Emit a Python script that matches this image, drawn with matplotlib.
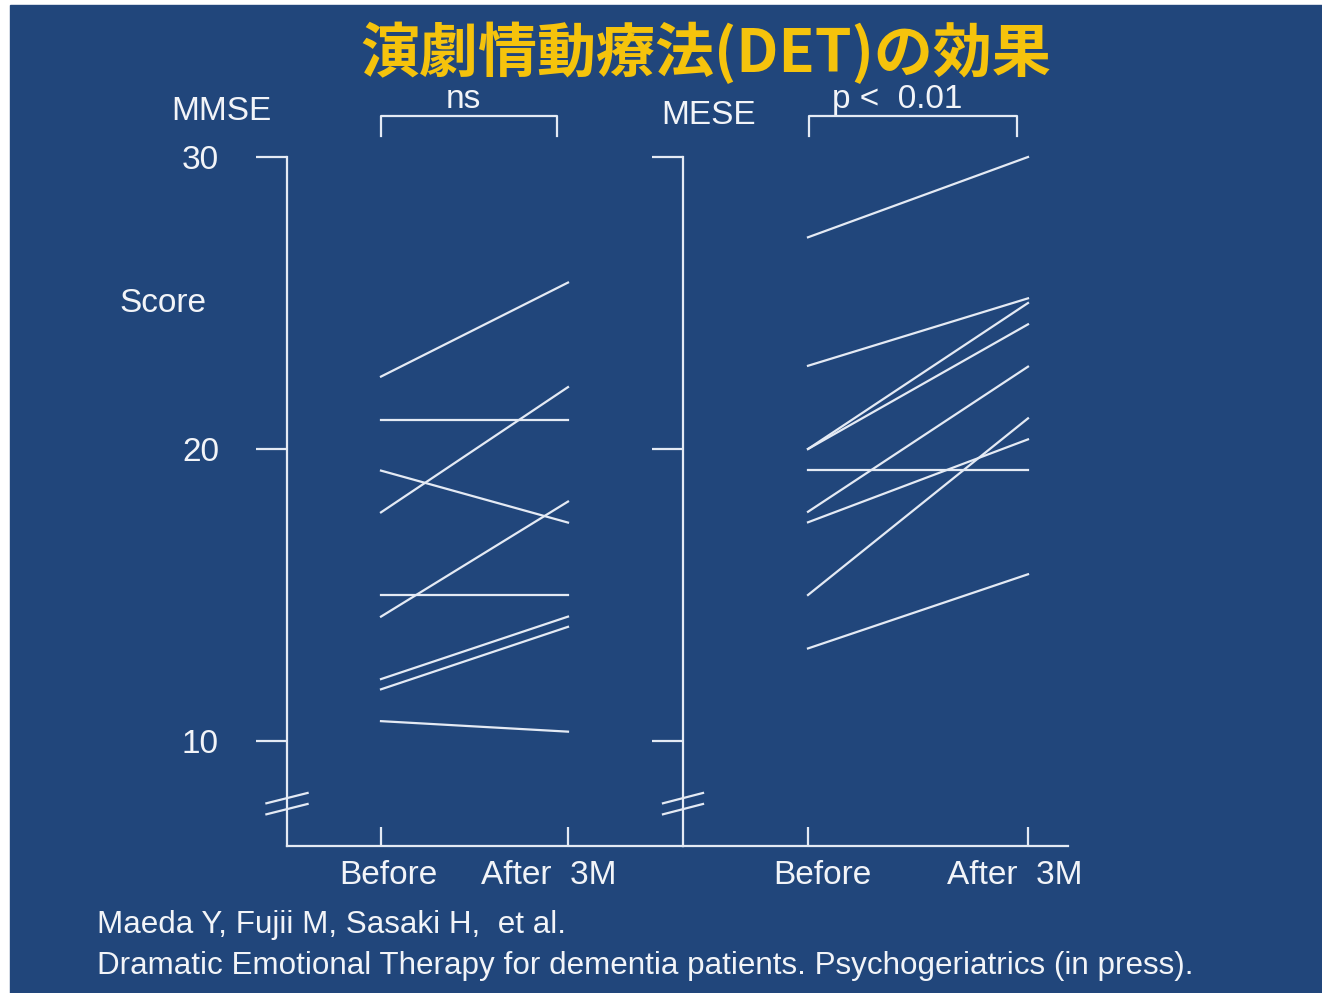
import matplotlib
matplotlib.use("Agg")
import matplotlib.pyplot as plt
from matplotlib.patches import Rectangle

# ---------------- data ----------------
title = "演劇情動療法(DET)の効果"
time_labels = ["Before", "After  3M"]
y_ticks = [10, 20, 30]

mmse_before = [22.48, 21.0, 17.83, 19.26, 14.26, 15.0, 12.12, 11.77, 10.68]
mmse_after = [25.70, 21.0, 22.12, 17.48, 18.20, 15.0, 14.26, 13.91, 10.32]

mese_before = [27.25, 22.85, 20.0, 20.0, 17.85, 17.49, 15.0, 13.17, 19.27]
mese_after = [30.0, 25.16, 25.0, 24.27, 22.82, 20.33, 21.05, 15.71, 19.27]

mmse_sig = "ns"
mese_sig = "p <  0.01"
citation1 = "Maeda Y, Fujii M, Sasaki H,  et al."
citation2 = "Dramatic Emotional Therapy for dementia patients. Psychogeriatrics (in press)."

# ---------------- style ----------------
W, H = 1322, 993
BG = "#21467b"
FG = "#f2f4f8"
LINE = "#e4eaf4"
GOLD = "#f5c30c"
FONT = ["Liberation Sans", "DejaVu Sans"]
FS = 24

plt.rcParams["font.family"] = FONT

fig = plt.figure(figsize=(W / 100, H / 100), dpi=100, facecolor="white")
fig.patches.append(Rectangle((10 / W, 0), 1 - 10 / W, (H - 5) / H,
                             transform=fig.transFigure, color=BG, zorder=-10))


def fx(x):
    return x / W


def fy(y):
    return 1 - y / H


def make_axes(left_px, right_px, x0_px, x1_px):
    top_px, bottom_px = 157, 846
    ax = fig.add_axes([fx(left_px), fy(bottom_px), (right_px - left_px) / W,
                       (bottom_px - top_px) / H])
    ax.set_facecolor("none")
    unit = x1_px - x0_px
    ax.set_xlim((left_px - x0_px) / unit, (right_px - x0_px) / unit)
    ymin = 30 - (bottom_px - top_px) / 29.2
    ax.set_ylim(ymin, 30)
    for s in ["top", "right"]:
        ax.spines[s].set_visible(False)
    for s in ["left", "bottom"]:
        ax.spines[s].set_color(LINE)
        ax.spines[s].set_linewidth(1.6)
    ax.set_yticks(y_ticks)
    ax.tick_params(axis="y", direction="out", length=22, width=1.6,
                   colors=LINE, labelcolor=FG, labelsize=FS, pad=27)
    ax.set_xticks([0, 1])
    ax.set_xticklabels([])
    ax.tick_params(axis="x", direction="in", length=14, width=1.6, colors=LINE)
    # axis break marks
    for dy in (0.0, -0.016):
        ax.plot([-0.052, 0.052], [0.062 + dy, 0.077 + dy], transform=ax.transAxes,
                color=LINE, lw=1.6, clip_on=False)
    return ax


ax1 = make_axes(287, 683, 381, 568)
ax2 = make_axes(683, 1068, 808, 1028)
ax2.set_yticklabels([])

for b, a in zip(mmse_before, mmse_after):
    ax1.plot([0, 1], [b, a], color=LINE, lw=1.6, clip_on=False)
for b, a in zip(mese_before, mese_after):
    ax2.plot([0, 1], [b, a], color=LINE, lw=1.6, clip_on=False)

# x labels
for ax, offs in ((ax1, (7, -19)), (ax2, (14, -13))):
    for i, (lab, o) in enumerate(zip(time_labels, offs)):
        ax.annotate(lab, xy=(i, 0), xycoords=("data", "axes fraction"),
                    xytext=(o * 0.72, -21), textcoords="offset points",
                    ha="center", va="center", color=FG, fontsize=FS)

# significance brackets
def bracket(ax, x0, x1, text, tx):
    yb = 30 + (157 - 116) / 29.2
    yl = 30 + (157 - 136) / 29.2
    ax.plot([x0, x0, x1, x1], [yl, yb, yb, yl], color=LINE, lw=1.6, clip_on=False)
    ax.text(tx, yb + 0.02, text, ha="center", va="bottom", color=FG, fontsize=FS)


bracket(ax1, 0, 0.94, mmse_sig, 0.44)
bracket(ax2, 0.005, 0.95, mese_sig, 0.405)

# axis titles
fig.text(fx(221), fy(112), "MMSE", ha="center", va="center", color=FG, fontsize=FS)
fig.text(fx(709), fy(116), "MESE", ha="center", va="center", color=FG, fontsize=FS)
fig.text(fx(163), fy(303), "Score", ha="center", va="center", color=FG, fontsize=FS)

# title
fig.text(fx(706), fy(54), title, ha="center", va="center", color=GOLD,
         fontsize=42.5, fontweight="bold", family=["Noto Sans CJK JP", "DejaVu Sans"])

# citation
cfont = ["Liberation Sans", "DejaVu Sans"]
fig.text(fx(97), fy(925), citation1, ha="left", va="center", color=FG,
         fontsize=22.6, family=cfont)
fig.text(fx(97), fy(966), citation2, ha="left", va="center", color=FG,
         fontsize=22.6, family=cfont)

fig.savefig("out.png", dpi=100, facecolor=fig.get_facecolor())
